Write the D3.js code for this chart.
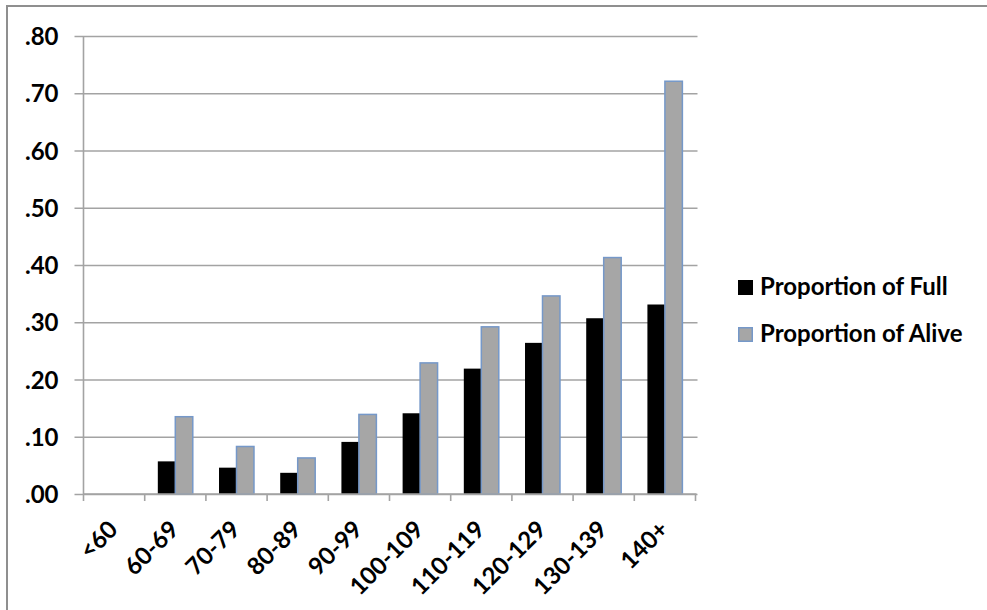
<!DOCTYPE html>
<html>
<head>
<meta charset="utf-8">
<script src="https://cdn.jsdelivr.net/npm/d3@7"></script>
<style>
  html, body { margin: 0; padding: 0; background: #fff; }
  svg { display: block; }
  text { font-family: Lato, "Open Sans", sans-serif; font-weight: 700; fill: #000; }
</style>
</head>
<body>
<svg id="chart" width="987" height="610"></svg>
<script>
// Score bands along the x axis
const categories = ["<60", "60-69", "70-79", "80-89", "90-99", "100-109", "110-119", "120-129", "130-139", "140+"];
// Series values (null = no bar)
const proportionFull  = [null, 0.057, 0.046, 0.037, 0.091, 0.141, 0.219, 0.264, 0.307, 0.331];
const proportionAlive = [null, 0.135, 0.083, 0.063, 0.139, 0.229, 0.292, 0.346, 0.413, 0.721];
const seriesNames = ["Proportion of Full", "Proportion of Alive"];
const yTicks = [0, 0.1, 0.2, 0.3, 0.4, 0.5, 0.6, 0.7, 0.8];
const yTickLabels = [".00", ".10", ".20", ".30", ".40", ".50", ".60", ".70", ".80"];

const svg = d3.select("#chart");
const gridColor = "#a3a3a3";
const fills = ["#000000", "#a6a6a6"];
const strokes = ["none", "#7598c9"];

// Outer chart frame (runs off the right and bottom edges)
svg.append("rect")
  .attr("x", 7).attr("y", 6).attr("width", 1100).attr("height", 700)
  .attr("fill", "none").attr("stroke", "#8f8f8f").attr("stroke-width", 2);

const plotLeft = 83.5, plotRight = 695.5, plotTop = 36, plotBottom = 494;

const x = d3.scaleBand().domain(categories).range([plotLeft, plotRight]).paddingInner(0).paddingOuter(0);
const xs = d3.scaleBand().domain(seriesNames).range([0, x.bandwidth()]).paddingInner(0).paddingOuter(0.75);
const y = d3.scaleLinear().domain([0, 0.8]).range([plotBottom, plotTop]);

// Horizontal gridlines with outward tick stubs
const yAxis = d3.axisLeft(y)
  .tickValues(yTicks)
  .tickSize(-(plotRight - plotLeft + 2))
  .tickPadding(25)
  .tickFormat((d, i) => yTickLabels[i]);
const gy = svg.append("g").attr("transform", `translate(${plotLeft},0)`).call(yAxis);
gy.select(".domain").remove();
gy.selectAll(".tick line")
  .attr("x1", -9)
  .attr("stroke", gridColor).attr("stroke-width", 1.6);
gy.selectAll(".tick text")
  .attr("font-size", 24)
  .attr("dy", "0.36em");

// Vertical axis line
svg.append("line")
  .attr("x1", plotLeft).attr("x2", plotLeft).attr("y1", plotTop).attr("y2", plotBottom)
  .attr("stroke", gridColor).attr("stroke-width", 1.6);

// Bars
const data = categories.map((c, i) => ({ cat: c, vals: [proportionFull[i], proportionAlive[i]] }));
const groups = svg.append("g").selectAll("g").data(data).join("g")
  .attr("transform", d => `translate(${x(d.cat)},0)`);
groups.selectAll("rect")
  .data(d => d.vals.map((v, j) => ({ v, j })).filter(e => e.v !== null))
  .join("rect")
  .attr("x", e => xs(seriesNames[e.j]))
  .attr("width", xs.bandwidth())
  .attr("y", e => y(e.v))
  .attr("height", e => y(0) - y(e.v))
  .attr("fill", e => fills[e.j])
  .attr("stroke", e => strokes[e.j])
  .attr("stroke-width", 1.5);

// Category axis with boundary ticks
const xAxisLine = svg.append("g");
xAxisLine.append("line")
  .attr("x1", plotLeft).attr("x2", plotRight + 1).attr("y1", plotBottom).attr("y2", plotBottom)
  .attr("stroke", gridColor).attr("stroke-width", 1.6);
const boundaries = categories.map(c => x(c)).concat([plotRight]);
xAxisLine.selectAll("line.b").data(boundaries).join("line").attr("class", "b")
  .attr("x1", d => d).attr("x2", d => d)
  .attr("y1", plotBottom).attr("y2", plotBottom + 7)
  .attr("stroke", gridColor).attr("stroke-width", 1.6);

// Rotated category labels
svg.append("g").selectAll("text").data(categories).join("text")
  .attr("transform", d => `translate(${x(d) + x.bandwidth() / 2 + 5},${plotBottom + 37}) rotate(-45)`)
  .attr("text-anchor", "end")
  .attr("font-size", 24)
  .text(d => d);

// Legend
const legend = svg.append("g").selectAll("g").data(seriesNames).join("g")
  .attr("transform", (d, i) => `translate(738,${280 + i * 47})`);
legend.append("rect")
  .attr("x", 0.75).attr("y", 0.75).attr("width", 13.5).attr("height", 13.5)
  .attr("fill", (d, i) => fills[i])
  .attr("stroke", (d, i) => i === 0 ? "#000" : strokes[i])
  .attr("stroke-width", 1.5);
legend.append("text")
  .attr("x", 22).attr("y", 15)
  .attr("font-size", 24)
  .text(d => d);
</script>
</body>
</html>
